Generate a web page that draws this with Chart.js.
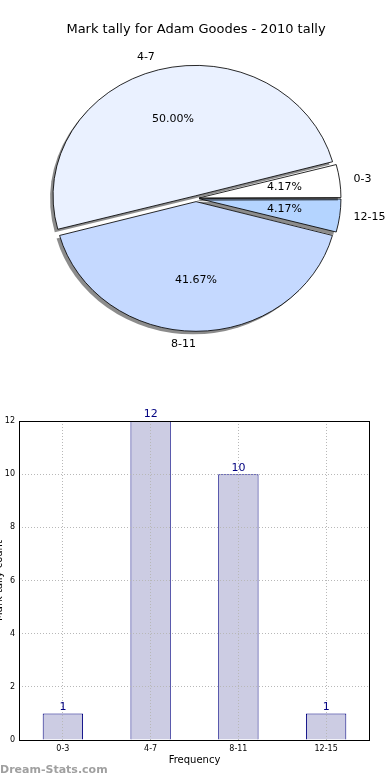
<!DOCTYPE html>
<html>
<head>
<meta charset="utf-8">
<script src="https://cdn.jsdelivr.net/npm/chart.js@4/dist/chart.umd.min.js"></script>
<style>
  html, body { margin: 0; padding: 0; background: #fff; overflow: hidden; }
  body { width: 390px; height: 780px; position: relative; }
  #pieWrap { position: absolute; left: 0; top: 0; width: 390px; height: 380px; }
  #barWrap { position: absolute; left: -12px; top: 390px; width: 392px; height: 390px; }
  #mark { position: absolute; left: 0; top: 763px; font: bold 11px "DejaVu Sans", sans-serif; color: #a0a0a0; }
</style>
</head>
<body>
<div id="pieWrap"><canvas id="pie" width="390" height="380"></canvas></div>
<div id="barWrap"><canvas id="bar" width="392" height="390"></canvas></div>
<div id="mark">Dream-Stats.com</div>
<script>
// data
const categories = ['0-3', '4-7', '8-11', '12-15'];
const tally = [1, 12, 10, 1];
const yTicks = [0, 2, 4, 6, 8, 10, 12];
const pieColors = ['#ffffff', '#eaf1ff', '#c5d9ff', '#b4d4ff'];

const chartTitle = 'Mark tally for Adam Goodes - 2010 tally';
const font = '"DejaVu Sans", sans-serif';
const total = tally.reduce((a, b) => a + b, 0);

// pie is drawn clockwise from 3 o'clock, so reverse to get matplotlib's ccw order
const pieLabels = categories.slice().reverse();
const pieData = tally.slice().reverse();
const pieFill = pieColors.slice().reverse();

const SX = 1.09;   // matplotlib pie is a bit wider than tall
const SHIFT = 5;   // explode distance in px

const pieDecor = {
    id: 'pieDecor',
    beforeDatasetsDraw(chart) {
        const ctx = chart.ctx;
        const cx = chart.getDatasetMeta(0).data[0].x;
        ctx.save();
        ctx.translate(cx, 0);
        ctx.scale(SX, 1);
        ctx.translate(-cx, 0);
        ctx.shadowColor = 'rgba(0,0,0,0.45)';
        ctx.shadowOffsetX = -3;
        ctx.shadowOffsetY = 3;
        ctx.shadowBlur = 0;
        // shadow only under the fills, not the outlines
        const stroke = ctx.stroke;
        ctx.stroke = function () {
            const sc = this.shadowColor;
            this.shadowColor = 'rgba(0,0,0,0)';
            stroke.apply(this, arguments);
            this.shadowColor = sc;
        };
        this._stroke = stroke;
    },
    afterDatasetsDraw(chart) {
        const ctx = chart.ctx;
        ctx.stroke = this._stroke;
        ctx.restore();
        ctx.save();
        ctx.fillStyle = '#000';
        ctx.font = '11px ' + font;
        ctx.textBaseline = 'middle';
        chart.getDatasetMeta(0).data.forEach((arc, i) => {
            const a = (arc.startAngle + arc.endAngle) / 2;
            const r = arc.outerRadius;
            const c = Math.cos(a), s = Math.sin(a);
            // percentage
            const pr = 0.6 * r + SHIFT;
            ctx.textAlign = 'center';
            ctx.fillText((pieData[i] / total * 100).toFixed(2) + '%', arc.x + SX * pr * c, arc.y + pr * s);
            // category
            const lr = 1.1 * r + SHIFT;
            ctx.textAlign = c > 1e-9 ? 'left' : 'right';
            ctx.fillText(pieLabels[i], arc.x + SX * lr * c, arc.y + lr * s);
        });
        ctx.restore();
    }
};

new Chart(document.getElementById('pie'), {
    type: 'pie',
    data: {
        labels: pieLabels,
        datasets: [{
            data: pieData,
            backgroundColor: pieFill,
            borderColor: '#000',
            borderWidth: 0.8,
            offset: [11.5, 13.3, 10, 11.5],
            radius: 128,
            clip: false
        }]
    },
    options: {
        responsive: false,
        animation: false,
        rotation: 90,
        layout: { padding: { left: 2, right: 0, top: 0, bottom: 21 } },
        plugins: {
            legend: { display: false },
            tooltip: { enabled: false },
            title: {
                display: true,
                text: chartTitle,
                color: '#000',
                font: { family: font, size: 13, weight: 'normal' },
                padding: { top: 22, bottom: 0 }
            }
        }
    },
    plugins: [pieDecor]
});

const barDecor = {
    id: 'barDecor',
    afterDraw(chart) {
        const ctx = chart.ctx;
        const a = chart.chartArea;
        ctx.save();
        ctx.strokeStyle = '#000';
        ctx.lineWidth = 1;
        ctx.strokeRect(Math.round(a.left) + 0.5, Math.round(a.top) + 0.5,
            Math.round(a.right - a.left) - 1, Math.round(a.bottom - a.top));
        ctx.fillStyle = '#000080';
        ctx.font = '11px ' + font;
        ctx.textAlign = 'center';
        ctx.textBaseline = 'bottom';
        chart.getDatasetMeta(0).data.forEach((bar, i) => {
            ctx.fillText(String(tally[i]), bar.x, bar.y - 1);
        });
        ctx.restore();
    }
};

const gridStyle = { color: '#b8b8b8', lineWidth: 1, drawTicks: false, z: 1 };

new Chart(document.getElementById('bar'), {
    type: 'bar',
    data: {
        labels: categories,
        datasets: [{
            data: tally,
            backgroundColor: '#ccccE3',
            borderColor: '#000080',
            borderWidth: 1,
            barPercentage: 0.46,
            categoryPercentage: 1
        }]
    },
    options: {
        responsive: false,
        animation: false,
        layout: { padding: { left: 0, right: 10, top: 31, bottom: 0 } },
        plugins: { legend: { display: false }, tooltip: { enabled: false } },
        scales: {
            x: {
                grid: Object.assign({ offset: false }, gridStyle),
                border: { display: false, dash: [1, 2] },
                ticks: { color: '#000', font: { family: font, size: 8 }, padding: 4 },
                title: {
                    display: true, text: 'Frequency', color: '#000',
                    font: { family: font, size: 10 }, padding: { top: 0, bottom: 14 }
                },
                afterFit(scale) { scale.height = 40; }
            },
            y: {
                min: 0,
                max: yTicks[yTicks.length - 1],
                afterBuildTicks(scale) { scale.ticks = yTicks.map(v => ({ value: v })); },
                grid: gridStyle,
                border: { display: false, dash: [1, 2] },
                ticks: { color: '#000', font: { family: font, size: 8 }, padding: 4 },
                title: {
                    display: true, text: 'Mark tally count', color: '#000',
                    font: { family: font, size: 10 }, padding: { top: 5, bottom: 0 }
                },
                afterFit(scale) { scale.width = 31; }
            }
        }
    },
    plugins: [barDecor]
});
</script>
</body>
</html>
